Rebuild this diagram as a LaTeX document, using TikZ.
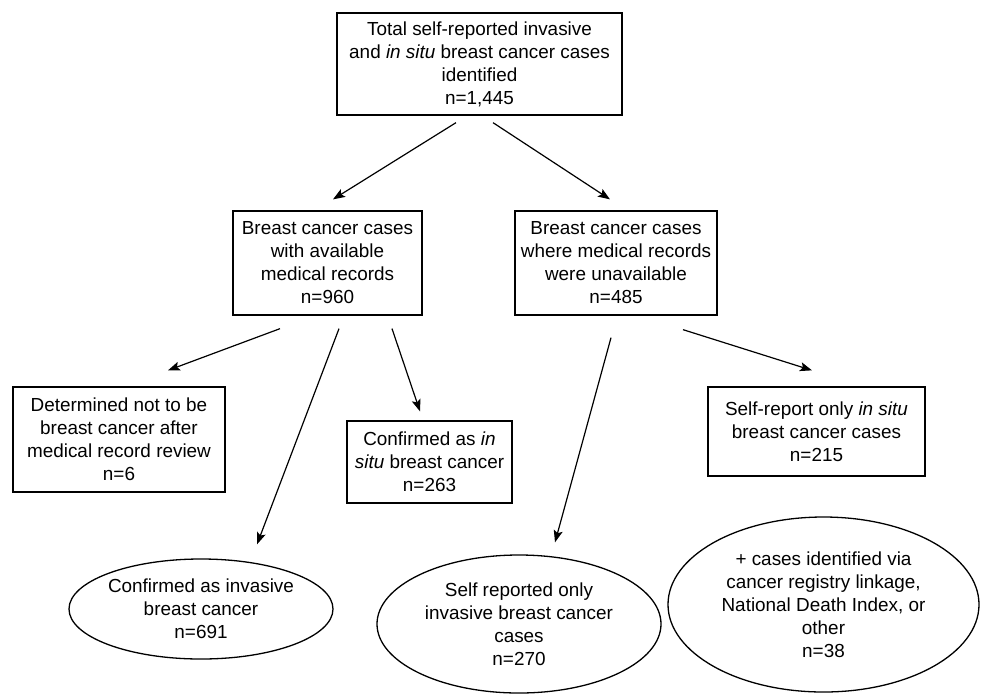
\documentclass[tikz,border=0pt]{standalone}
\usepackage{fontspec}
\setmainfont{Liberation Sans}
\usetikzlibrary{calc,arrows.meta,shapes.geometric}

\begin{document}
\begin{tikzpicture}[
    x=1pt, y=-1pt,
    box/.style={draw, line width=1.3pt, inner sep=0pt, align=center},
    oval/.style={ellipse, draw, line width=1.3pt, inner sep=0pt, align=center},
    every edge/.style={draw, line width=1.2pt, -{Stealth[length=12pt, width=9pt, inset=2.5pt]}},
    font=\fontsize{18.9}{23}\selectfont
]

% FIXED BOUNDING BOX
\path[use as bounding box] (0,0) rectangle (987,694);

\node[box, minimum width=285pt, minimum height=102pt] (total) at (479.5,64)
    {Total self-reported invasive\\ and \textit{in situ} breast cancer cases\\ identified\\ n=1,445};
\node[box, minimum width=189pt, minimum height=104pt] (avail) at (327.5,263)
    {Breast cancer cases\\ with available\\ medical records\\ n=960};
\node[box, minimum width=202pt, minimum height=104pt] (unavail) at (616,263)
    {Breast cancer cases\\ where medical records\\ were unavailable\\ n=485};
\node[box, minimum width=212pt, minimum height=105pt] (notbc) at (119,439.5)
    {Determined not to be\\ breast cancer after\\ medical record review\\ n=6};
\node[box, minimum width=165pt, minimum height=82pt] (insitu) at (429.5,462)
    {Confirmed as \textit{in}\\ \textit{situ} breast cancer\\ n=263};
\node[box, minimum width=217pt, minimum height=89pt] (srinsitu) at (816.5,431.5)
    {Self-report only \textit{in situ}\\ breast cancer cases\\ n=215};
\node[oval, minimum width=264pt, minimum height=100pt] (invasive) at (201,609)
    {Confirmed as invasive\\ breast cancer\\ n=691};
\node[oval, minimum width=284pt, minimum height=138pt] (srinv) at (519,624)
    {Self reported only\\ invasive breast cancer\\ cases\\ n=270};
\node[oval, minimum width=311pt, minimum height=175pt] (other) at (823.5,604.5)
    {+ cases identified via\\ cancer registry linkage,\\ National Death Index, or\\ other\\ n=38};

\path ($(total.south)+(-23.5,7)$) edge ($(avail.north)+(5.5,-11)$);
\path ($(total.south)+(13.5,7)$)  edge ($(unavail.north)+(-6,-11)$);
\path ($(avail.south)+(-47.5,13)$) edge ($(notbc.north)+(49,-16)$);
\path ($(avail.south)+(11.5,13)$)  edge ($(invasive.north)+(56,-14)$);
\path ($(avail.south)+(64.5,13)$)  edge ($(insitu.north)+(-9.5,-9)$);
\path ($(unavail.south)+(-5,22)$)  edge ($(srinv.north)+(36,-12)$);
\path ($(unavail.south)+(67,14)$)  edge ($(srinsitu.north)+(-4.5,-16)$);

\end{tikzpicture}
\end{document}
